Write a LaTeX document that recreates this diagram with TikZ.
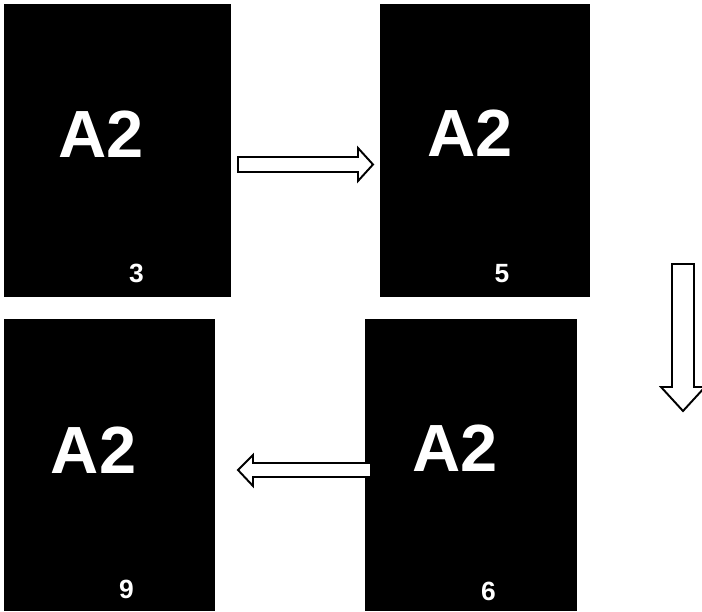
\documentclass[tikz,border=0pt]{standalone}
\usepackage{xcolor}
\usepackage{fontspec}
\setmainfont{Liberation Sans}
\usepackage{tikz}
\usetikzlibrary{arrows.meta}

\begin{document}
\begin{tikzpicture}[x=0.02cm, y=-0.02cm,
		big/.style={white, inner sep=0pt, font=\fontsize{38}{38}\selectfont\bfseries},
		small/.style={white, inner sep=0pt, font=\fontsize{15}{15}\selectfont\bfseries},
		blockarrow/.style={draw=black, fill=white, line width=1.1pt, line join=miter}]
				\useasboundingbox (0,0) rectangle (702,611);
				
				% Panels
				\fill[black] (4,4) rectangle (231,297);
				\fill[black] (380,4) rectangle (590,297);
				\fill[black] (4,319) rectangle (215,611);
				\fill[black] (365,319) rectangle (577,611);
				
				% Display texts
				\node[big] (codeA) at (101,134) {A2};
				\node[small] (numA) at (136.5,273.5) {3};
				\node[big] (codeB) at (470,133) {A2};
				\node[small] (numB) at (502,274) {5};
				\node[big] (codeC) at (93.5,450) {A2};
				\node[small] (numC) at (126.5,589) {9};
				\node[big] (codeD) at (455,448) {A2};
				\node[small] (numD) at (488.5,591.5) {6};
				
				% Arrows between panels
				\draw[blockarrow] (238,157) -- (358,157) -- (358,148) -- (373,164.5) -- (358,181) -- (358,172) -- (238,172) -- cycle;
				\draw[blockarrow] (672,264) -- (694,264) -- (694,387) -- (705,387) -- (683,411) -- (661,387) -- (672,387) -- cycle;
				\draw[blockarrow] (371,463) -- (253,463) -- (253,455) -- (238,470) -- (253,486) -- (253,477) -- (371,477) -- cycle;
				
			\end{tikzpicture}
\end{document}
